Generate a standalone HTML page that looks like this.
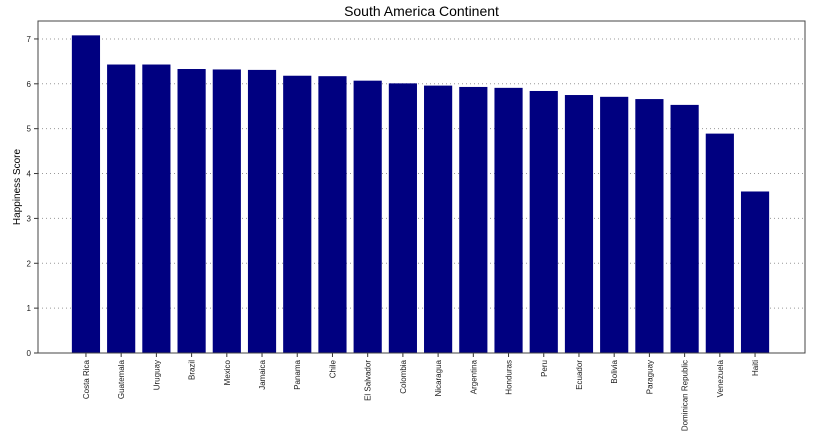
<!DOCTYPE html>
<html><head><meta charset="utf-8"><style>
body{margin:0;background:#fff;font-family:"Liberation Sans","DejaVu Sans",sans-serif;}
</style></head><body>
<svg id="chart" width="819" height="442" xmlns="http://www.w3.org/2000/svg"></svg>
<script>
const categories=["Costa Rica","Guatemala","Uruguay","Brazil","Mexico","Jamaica","Panama","Chile","El Salvador","Colombia","Nicaragua","Argentina","Honduras","Peru","Ecuador","Bolivia","Paraguay","Dominican Republic","Venezuela","Haiti"];
const scores=[7.08,6.43,6.43,6.33,6.32,6.31,6.18,6.17,6.07,6.01,5.96,5.93,5.91,5.84,5.75,5.71,5.66,5.53,4.89,3.60];
const yTicks=[0,1,2,3,4,5,6,7];
const NS="http://www.w3.org/2000/svg";
const svg=document.getElementById('chart');
const L=38,R=805,T=21,B=353;
const yMax=7.4;
const n=categories.length;
const xMax=n-1+0.4+0.05*(n-1+0.8);
const x0=-0.4-0.05*(n-1+0.8);
function xs(v){return L-1+(v-x0)/(xMax-x0)*(R-L);}
function ys(v){return B-v/yMax*(B-T);}
function mk(tag,attrs,text){const e=document.createElementNS(NS,tag);for(const k in attrs)e.setAttribute(k,attrs[k]);if(text!==undefined)e.textContent=text;svg.appendChild(e);return e;}
let e;
e=mk('text',{x:(L+R)/2,y:16,'text-anchor':'middle','font-size':14},'South America Continent');


yTicks.forEach(t=>{
  const y=ys(t);
  e=mk('line',{x1:L,x2:R,y1:y,y2:y,stroke:'#999','stroke-dasharray':'1,3','stroke-width':1});
  
  
  e=mk('line',{x1:L-4,x2:L,y1:y,y2:y,stroke:'#333'});
  
  
  e=mk('text',{x:L-7,y:y+3,'text-anchor':'end','font-size':8,fill:'#222'},String(t));
  
  
});
const pxPer=(R-L)/(xMax-x0);
categories.forEach((c,i)=>{
  const cx=xs(i),w=0.8*pxPer;
  e=mk('rect',{x:cx-w/2,y:ys(scores[i]),width:w,height:B-ys(scores[i]),fill:'#000080'});
  
  
  e=mk('line',{x1:cx,x2:cx,y1:B,y2:B+4,stroke:'#333'});
  
  
  e=mk('text',{x:cx+3,y:B+7,'text-anchor':'end','font-size':8,fill:'#222',transform:`rotate(-90 ${cx+3} ${B+7})`},c);
  
  
});
e=mk('rect',{x:L,y:T,width:R-L,height:B-T,fill:'none',stroke:'#444','stroke-width':1});


e=mk('text',{x:20,y:(T+B)/2,'text-anchor':'middle','font-size':10,transform:`rotate(-90 20 ${(T+B)/2})`},'Happiness Score');


</script>
</body></html>
